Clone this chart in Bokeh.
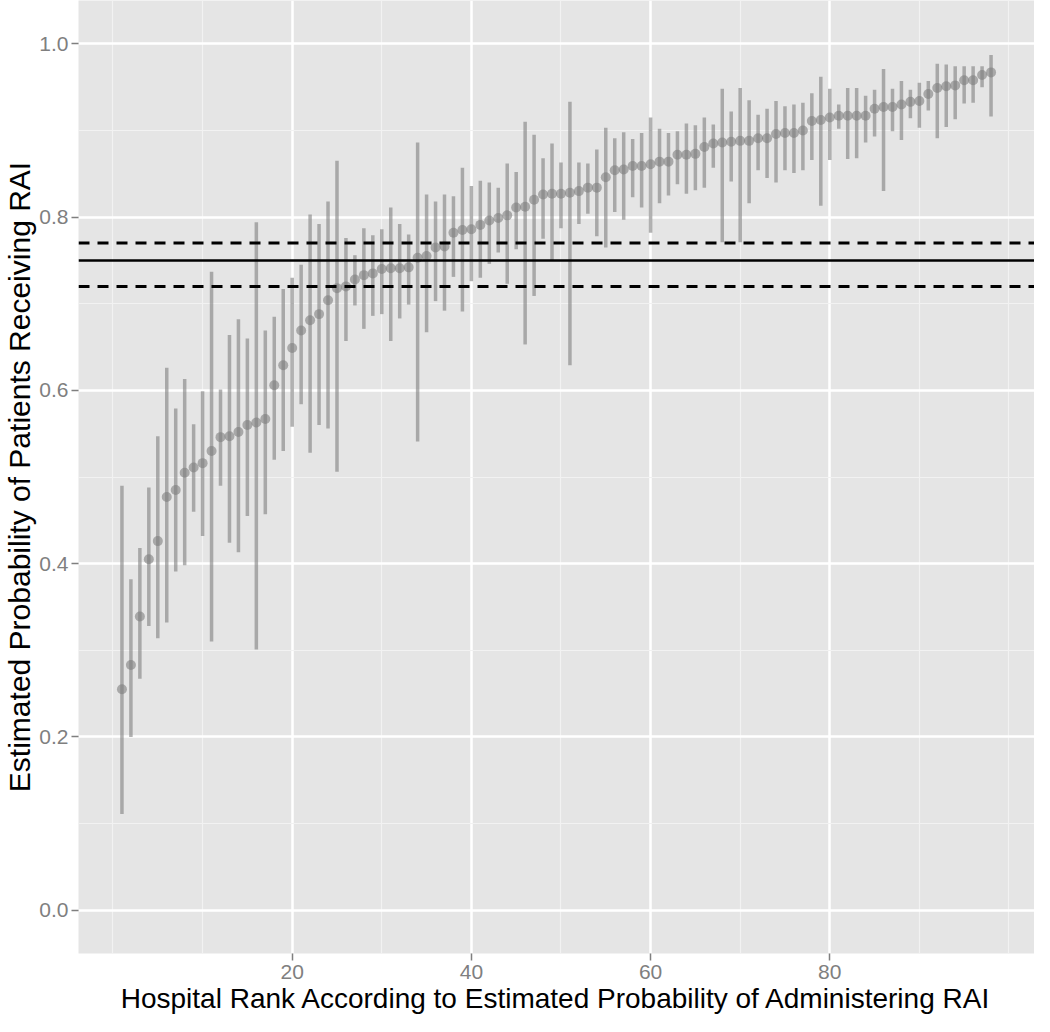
from bokeh.plotting import figure
from bokeh.models import ColumnDataSource, Span, FixedTicker, PrintfTickFormatter, Range1d
from bokeh.embed import file_html
from bokeh.resources import INLINE

# ---- data ----
rank = list(range(1, 99))
estimate = [0.255, 0.283, 0.339, 0.405, 0.426, 0.477, 0.485, 0.505, 0.511, 0.516,
            0.530, 0.546, 0.547, 0.552, 0.560, 0.563, 0.567, 0.606, 0.629, 0.649,
            0.669, 0.681, 0.688, 0.704, 0.718, 0.720, 0.728, 0.733, 0.735, 0.740,
            0.741, 0.741, 0.742, 0.753, 0.755, 0.765, 0.766, 0.782, 0.785, 0.786,
            0.791, 0.796, 0.799, 0.802, 0.811, 0.812, 0.820, 0.826, 0.827, 0.827,
            0.828, 0.830, 0.834, 0.834, 0.846, 0.854, 0.855, 0.859, 0.859, 0.861,
            0.864, 0.864, 0.872, 0.872, 0.873, 0.881, 0.885, 0.886, 0.887, 0.888,
            0.888, 0.891, 0.891, 0.896, 0.897, 0.897, 0.900, 0.911, 0.912, 0.915,
            0.917, 0.917, 0.917, 0.917, 0.925, 0.927, 0.927, 0.930, 0.933, 0.934,
            0.942, 0.949, 0.951, 0.952, 0.958, 0.958, 0.964, 0.967]
upper = [0.490, 0.382, 0.418, 0.488, 0.547, 0.626, 0.579, 0.613, 0.561, 0.599,
         0.737, 0.601, 0.664, 0.682, 0.660, 0.794, 0.669, 0.685, 0.717, 0.730,
         0.745, 0.803, 0.792, 0.818, 0.865, 0.776, 0.756, 0.787, 0.779, 0.786,
         0.811, 0.792, 0.780, 0.886, 0.826, 0.818, 0.826, 0.824, 0.857, 0.836,
         0.842, 0.840, 0.834, 0.862, 0.852, 0.910, 0.895, 0.868, 0.885, 0.863,
         0.933, 0.863, 0.862, 0.878, 0.903, 0.891, 0.898, 0.890, 0.897, 0.915,
         0.902, 0.897, 0.899, 0.908, 0.906, 0.915, 0.907, 0.948, 0.922, 0.949,
         0.935, 0.918, 0.925, 0.934, 0.928, 0.930, 0.932, 0.943, 0.962, 0.948,
         0.930, 0.949, 0.949, 0.940, 0.947, 0.971, 0.948, 0.957, 0.947, 0.955,
         0.957, 0.977, 0.976, 0.974, 0.974, 0.974, 0.974, 0.987]
lower = [0.111, 0.200, 0.267, 0.328, 0.314, 0.332, 0.391, 0.398, 0.460, 0.432,
         0.310, 0.490, 0.424, 0.413, 0.455, 0.301, 0.457, 0.520, 0.530, 0.558,
         0.584, 0.528, 0.560, 0.556, 0.506, 0.657, 0.698, 0.671, 0.686, 0.688,
         0.657, 0.683, 0.699, 0.541, 0.667, 0.703, 0.692, 0.731, 0.691, 0.726,
         0.730, 0.746, 0.759, 0.723, 0.763, 0.653, 0.709, 0.775, 0.750, 0.787,
         0.629, 0.792, 0.804, 0.778, 0.765, 0.806, 0.797, 0.823, 0.811, 0.782,
         0.816, 0.825, 0.838, 0.827, 0.831, 0.834, 0.857, 0.771, 0.841, 0.771,
         0.816, 0.854, 0.845, 0.840, 0.854, 0.851, 0.854, 0.866, 0.813, 0.866,
         0.902, 0.867, 0.868, 0.886, 0.893, 0.830, 0.899, 0.889, 0.914, 0.903,
         0.923, 0.891, 0.904, 0.913, 0.931, 0.932, 0.950, 0.916]

overall_mean = 0.75
overall_ci = [0.72, 0.77]

x_ticks = [20, 40, 60, 80]
x_minor = [0, 10, 30, 50, 70, 90, 100]
y_ticks = [0.0, 0.2, 0.4, 0.6, 0.8, 1.0]
y_minor = [0.1, 0.3, 0.5, 0.7, 0.9]

x_title = "Hospital Rank According to Estimated Probability of Administering RAI"
y_title = "Estimated Probability of Patients Receiving RAI"

src = ColumnDataSource(dict(rank=rank, est=estimate, lo=lower, hi=upper))

FONT = "Liberation Sans"
GREY = "#7F7F7F"

p = figure(width=1034, height=1016, output_backend="svg", toolbar_location=None,
           x_range=Range1d(-3.85, 102.85), y_range=Range1d(-0.05, 1.05),
           min_border_left=0, min_border_right=0, min_border_top=0, min_border_bottom=0)

p.background_fill_color = "#E5E5E5"
p.border_fill_color = "white"
p.outline_line_color = None

p.xaxis.ticker = FixedTicker(ticks=x_ticks, minor_ticks=x_minor)
p.yaxis.ticker = FixedTicker(ticks=y_ticks, minor_ticks=y_minor)
p.yaxis.formatter = PrintfTickFormatter(format="%.1f")

for g in (p.xgrid, p.ygrid):
    g.grid_line_color = "white"
    g.grid_line_width = 2.5
    g.minor_grid_line_color = "#F2F2F2"
    g.minor_grid_line_width = 1.2

for ax in (p.xaxis, p.yaxis):
    ax.axis_line_color = None
    ax.major_tick_line_color = GREY
    ax.major_tick_line_width = 1.5
    ax.major_tick_out = 7
    ax.major_tick_in = 0
    ax.minor_tick_line_color = None
    ax.major_label_text_color = GREY
    ax.major_label_text_font = FONT
    ax.major_label_text_font_size = "21px"
    ax.major_label_standoff = 4
    ax.axis_label_text_font = FONT
    ax.axis_label_text_font_style = "normal"
    ax.axis_label_text_color = "black"

p.xaxis.axis_label = x_title
p.xaxis.axis_label_text_font_size = "28px"
p.xaxis.axis_label_standoff = 1
p.yaxis.axis_label = y_title
p.yaxis.axis_label_text_font_size = "30px"
p.yaxis.axis_label_standoff = 0
p.yaxis.major_label_standoff = 3

p.segment(x0="rank", y0="lo", x1="rank", y1="hi", source=src,
          line_color=GREY, line_alpha=0.6, line_width=3.5, line_cap="butt")
p.scatter(x="rank", y="est", source=src, size=10,
          fill_color=GREY, fill_alpha=0.6, line_color=None)

p.add_layout(Span(location=overall_mean, dimension="width",
                  line_color="black", line_width=2.5))
for v in overall_ci:
    p.add_layout(Span(location=v, dimension="width", line_color="black",
                      line_width=3, line_dash="11 8"))

open("out.html", "w").write(file_html(p, INLINE))
